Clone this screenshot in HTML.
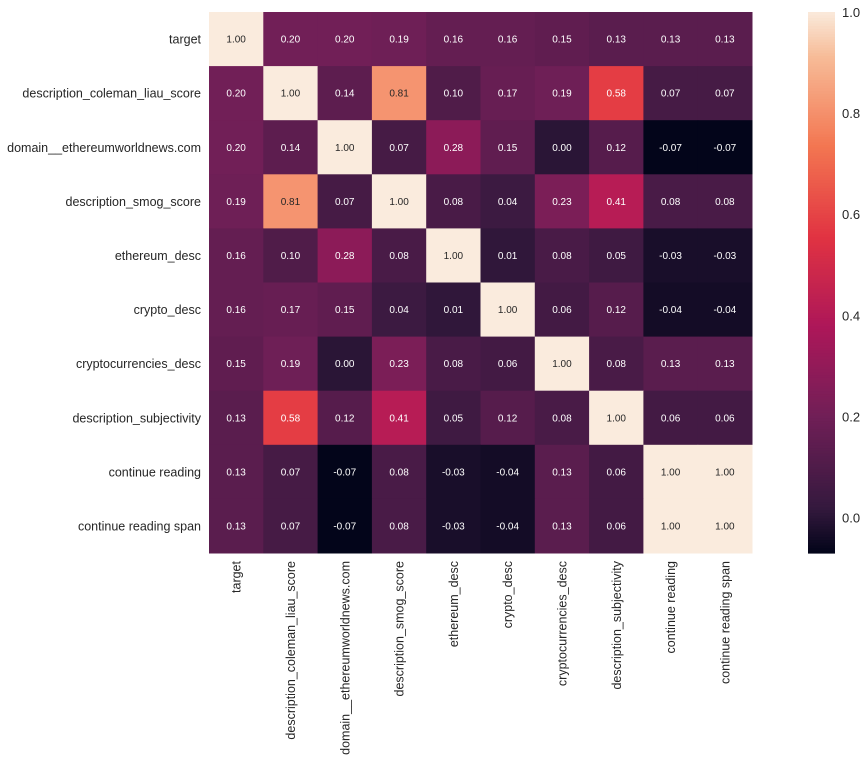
<!DOCTYPE html>
<html><head><meta charset="utf-8"><style>
body{margin:0;background:#fff;}
svg text{font-family:"Liberation Sans",Arial,sans-serif;}
</style></head><body>
<svg id="chart" width="866" height="764" xmlns="http://www.w3.org/2000/svg">
<g id="cells"></g><g id="ylabels"></g><g id="xlabels"></g><g id="cbar"></g>
</svg>
<script>
const labels=["target","description_coleman_liau_score","domain__ethereumworldnews.com","description_smog_score","ethereum_desc","crypto_desc","cryptocurrencies_desc","description_subjectivity","continue reading","continue reading span"];
const values=[
[1.00,0.20,0.20,0.19,0.16,0.16,0.15,0.13,0.13,0.13],
[0.20,1.00,0.14,0.81,0.10,0.17,0.19,0.58,0.07,0.07],
[0.20,0.14,1.00,0.07,0.28,0.15,0.00,0.12,-0.07,-0.07],
[0.19,0.81,0.07,1.00,0.08,0.04,0.23,0.41,0.08,0.08],
[0.16,0.10,0.28,0.08,1.00,0.01,0.08,0.05,-0.03,-0.03],
[0.16,0.17,0.15,0.04,0.01,1.00,0.06,0.12,-0.04,-0.04],
[0.15,0.19,0.00,0.23,0.08,0.06,1.00,0.08,0.13,0.13],
[0.13,0.58,0.12,0.41,0.05,0.12,0.08,1.00,0.06,0.06],
[0.13,0.07,-0.07,0.08,-0.03,-0.04,0.13,0.06,1.00,1.00],
[0.13,0.07,-0.07,0.08,-0.03,-0.04,0.13,0.06,1.00,1.00]];
const cbTicks=[0.0,0.2,0.4,0.6,0.8,1.0];
const vmin=-0.07,vmax=1.0;
const NS="http://www.w3.org/2000/svg";
const stops=[[0,[3,5,26]],[1/12,[53,25,62]],[3/12,[112,31,87]],[5/12,[173,23,89]],[7/12,[225,51,66]],[9/12,[243,118,81]],[11/12,[247,188,152]],[1,[250,235,221]]];
function cmap(v){let t=Math.max(0,Math.min(1,(v-vmin)/(vmax-vmin)));
for(let i=1;i<stops.length;i++){if(t<=stops[i][0]){const a=stops[i-1],b=stops[i],f=(t-a[0])/(b[0]-a[0]);
return a[1].map((c,k)=>Math.round(c+(b[1][k]-c)*f));}}return stops[stops.length-1][1];}
const X0=209,X1=752,Y0=12,Y1=553,n=labels.length,cw=(X1-X0)/n,ch=(Y1-Y0)/n;
const xs=i=>X0+i*cw, ys=i=>Y0+i*ch;
function mk(tag,attrs,parent){const e=document.createElementNS(NS,tag);for(const k in attrs)e.setAttribute(k,attrs[k]);parent.appendChild(e);return e;}
const cells=document.getElementById('cells');
values.forEach((row,r)=>row.forEach((v,c)=>{
const col=cmap(v);
const rc=mk('rect',{x:xs(c),y:ys(r),width:cw+0.5,height:ch+0.5,fill:`rgb(${col})`},cells);


const lum=(0.2126*col[0]+0.7152*col[1]+0.0722*col[2])/255;
const t=mk('text',{x:xs(c)+cw/2,y:ys(r)+ch/2+3.5,'text-anchor':'middle','font-size':'10',fill:lum>0.5?'#262626':'#fff'},cells);
t.textContent=v.toFixed(2);


}));
const yl=document.getElementById('ylabels'),xl=document.getElementById('xlabels');
labels.forEach((l,i)=>{
const t=mk('text',{x:201,y:ys(i)+ch/2+4.5,'text-anchor':'end','font-size':'12.5',fill:'#262626'},yl);
t.textContent=l;


const cx=xs(i)+cw/2+4.5;
const u=mk('text',{x:cx,y:561,'text-anchor':'end','font-size':'12.5',fill:'#262626',transform:`rotate(-90 ${cx} 561)`},xl);
u.textContent=l;


});
const cb=document.getElementById('cbar');
const cy=v=>Y1-(v-vmin)/(vmax-vmin)*(Y1-Y0);
const N=200;
for(let i=0;i<N;i++){const v=vmin+(vmax-vmin)*i/N;
const r=mk('rect',{x:808,y:cy(v+(vmax-vmin)/N),width:27,height:(Y1-Y0)/N+0.6,fill:`rgb(${cmap(v)})`},cb);

}
cbTicks.forEach(v=>{const t=mk('text',{x:842,y:cy(v)+5,'font-size':'13',fill:'#262626'},cb);
t.textContent=v.toFixed(1);

});
</script>
</body></html>
